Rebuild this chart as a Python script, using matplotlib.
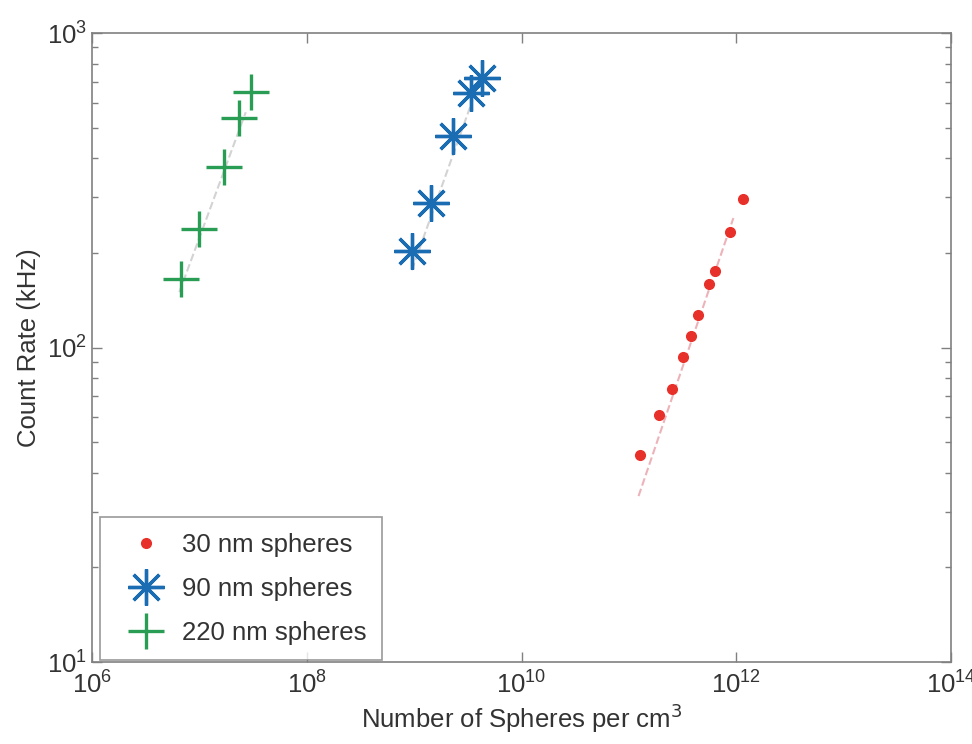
import matplotlib
matplotlib.use("Agg")
import matplotlib.pyplot as plt
import numpy as np

plt.rcParams['font.family'] = ['Liberation Sans', 'DejaVu Sans']

# 30 nm spheres
x30 = [1.26e11, 1.91e11, 2.5e11, 3.2e11, 3.8e11, 4.4e11, 5.6e11, 6.3e11, 8.8e11, 1.15e12]
y30 = [45.4, 60.8, 73.8, 93.5, 109, 127, 159, 175, 233, 296]
fit30_x = [1.23e11, 9.4e11]
fit30_y = [33.7, 258]

# 90 nm spheres
x90 = [9.6e8, 1.42e9, 2.32e9, 3.36e9, 4.3e9]
y90 = [203, 288, 470, 644, 719]
fit90_x = [9.5e8, 3.5e9]
fit90_y = [176, 612]

# 220 nm spheres
x220 = [6.7e6, 9.9e6, 1.69e7, 2.33e7, 3.0e7]
y220 = [165, 238, 375, 537, 649]
fit220_x = [6.5e6, 2.7e7]
fit220_y = [150, 560]

RED = '#e8302a'
BLUE = '#1b6db3'
GREEN = '#2a9d55'
AXIS = '#808080'
TEXT = '#333333'
FS = 18.5

fig = plt.figure(figsize=(9.72, 7.44), dpi=100)
ax = fig.add_axes([0.0947, 0.1102, 0.8837, 0.8454])

# faint dashed fit lines
ax.plot(fit30_x, fit30_y, '--', color='#e8a0a8', lw=1.5, alpha=0.8)
ax.plot(fit90_x, fit90_y, '--', color='#c8c8c8', lw=1.5, alpha=0.8)
ax.plot(fit220_x, fit220_y, '--', color='#c8c8c8', lw=1.5, alpha=0.8)

ax.plot(x30, y30, 'o', color=RED, ms=7, mec=RED, label='30 nm spheres')
ax.plot(x90, y90, ls='none', marker=(8, 2, 0), ms=26, mew=2.4, color=BLUE,
        label='90 nm spheres')
ax.plot(x220, y220, ls='none', marker='+', ms=26, mew=2.4, color=GREEN,
        label='220 nm spheres')

ax.set_xscale('log')
ax.set_yscale('log')
ax.set_xlim(1e6, 1e14)
ax.set_ylim(10, 1000)
ax.set_xticks([1e6, 1e8, 1e10, 1e12, 1e14])
ax.xaxis.set_minor_locator(matplotlib.ticker.NullLocator())

ax.tick_params(which='both', direction='in', top=True, right=True,
               colors=AXIS, labelcolor=TEXT, labelsize=FS)
ax.tick_params(which='major', length=7, width=1)
ax.tick_params(which='minor', length=4, width=1)
ax.tick_params(axis='x', pad=7)
for s in ax.spines.values():
    s.set_color(AXIS)
    s.set_linewidth(1.2)

ax.set_xlabel('Number of Spheres per cm$^3$', fontsize=FS, color=TEXT, labelpad=2)
ax.set_ylabel('Count Rate (kHz)', fontsize=FS, color=TEXT)

leg = ax.legend(loc='lower left', bbox_to_anchor=(0.009, 0.003),
                borderaxespad=0, fontsize=FS, fancybox=False,
                handlelength=2.4, labelspacing=0.78, borderpad=0.6,
                handletextpad=0.2)
leg.get_frame().set_edgecolor(AXIS)
leg.get_frame().set_linewidth(1.2)
for t in leg.get_texts():
    t.set_color(TEXT)

fig.savefig('out.png', dpi=100)
